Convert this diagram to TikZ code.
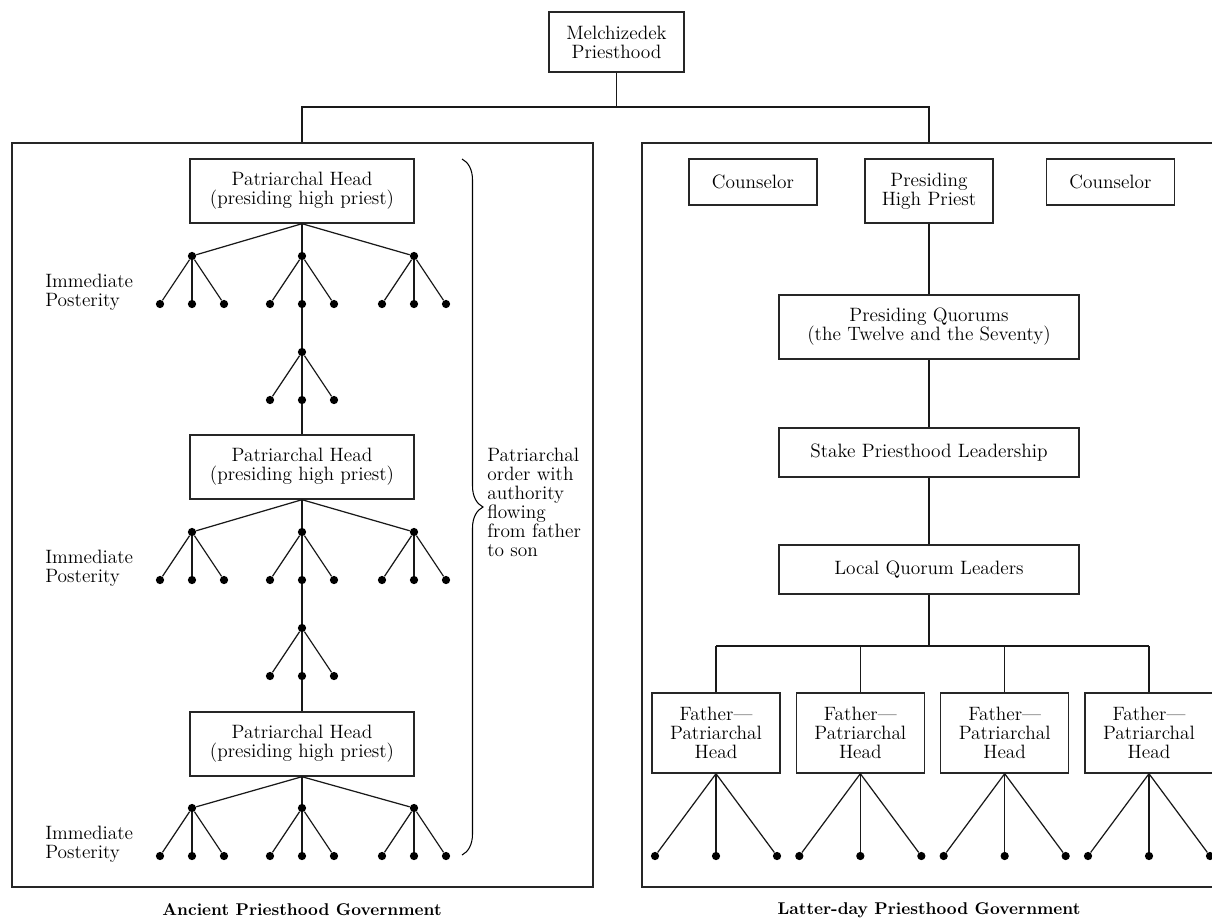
\documentclass[tikz,border=0pt]{standalone}
\usepackage{tikz}
\usetikzlibrary{positioning,decorations.pathreplacing}

\begin{document}
\begin{tikzpicture}[
  x=0.02cm, y=-0.02cm,
  every node/.style={font=\fontsize{11}{10.8}\selectfont},
  box/.style={draw=black!85, line width=0.8pt, inner sep=0pt, align=center, minimum width=2.56cm, minimum height=1.28cm},
  dot/.style={circle, fill=black, inner sep=0pt, minimum size=0.165cm},
  link/.style={draw=black!90, line width=0.7pt},
  frame/.style={draw=black!85, line width=1.1pt},
  note/.style={align=left, anchor=west, inner sep=0pt},
  govtitle/.style={font=\fontsize{9.7}{9.7}\selectfont\bfseries, inner sep=0pt}
]
\clip (0,0) rectangle (1212,917);
% Top
\node[box, minimum width=2.7cm, minimum height=1.2cm] (mel) at (616.5,42) {Melchizedek\\Priesthood};
\coordinate (bus) at (0,107);
\coordinate (ltop) at (302,143);
\coordinate (rtop) at (929,143);
\draw[link] (mel.south) -- (mel.south |- bus);
\draw[link] (ltop) -- (ltop |- bus) -- (rtop |- bus) -- (rtop);
% Frames
\draw[frame] (12,143) rectangle (593,887);
\draw[frame] (642,143) rectangle (1230,887);
% Ancient: patriarchal heads
\foreach \g/\y in {1/191,2/467,3/744}
  \node[box, minimum width=4.48cm] (ph\g) at (302,\y) {Patriarchal Head\\(presiding high priest)};
% Immediate posterity
\foreach \g/\y in {1/256,2/532,3/808} {
  \node[note] (ip\g) at (45,\y+36) {Immediate\\Posterity};
  \foreach \k/\x in {1/192,2/302,3/414} {
    \node[dot] (s\g\k) at (\x,\y) {};
    \draw[link] (ph\g.south) -- (s\g\k);
    \foreach \j in {1,2,3} {
      \node[dot] (s\g\k\j) at (\x+32*\j-64,\y+48) {};
      \draw[link] (s\g\k) -- (s\g\k\j);
    }
  }
}
% Sons in between
\foreach \m/\y in {1/352,2/628} {
  \node[dot] (m\m) at (302,\y) {};
  \draw[link] (s\m22) -- (m\m);
  \foreach \j in {1,2,3} {
    \node[dot] (m\m\j) at (302+32*\j-64,\y+48) {};
    \draw[link] (m\m) -- (m\m\j);
  }
}
\draw[link] (m12) -- (ph2);
\draw[link] (m22) -- (ph3);
% Brace
\coordinate (btop) at (462,159);
\coordinate (bbot) at (462,855);
\draw[line width=0.6pt, decorate, decoration={brace, amplitude=0.42cm}] (btop) -- (bbot);
\node[note] (order) at (487,502) {Patriarchal\\order with\\authority\\flowing\\from father\\to son};
% Latter-day
\node[box, minimum height=0.92cm] (cou1) at (753,182) {Counselor};
\node[box] (php) at (929,191) {Presiding\\High Priest};
\node[box, minimum height=0.92cm] (cou2) at (1110.5,182) {Counselor};
\node[box, minimum width=6cm] (pq) at (929,327) {Presiding Quorums\\(the Twelve and the Seventy)};
\node[box, minimum width=6cm, minimum height=0.98cm] (stake) at (929,452.5) {Stake Priesthood Leadership};
\node[box, minimum width=6cm, minimum height=0.98cm] (local) at (929,569.5) {Local Quorum Leaders};
\draw[link] (php) -- (pq);
\draw[link] (pq) -- (stake);
\draw[link] (stake) -- (local);
\coordinate (fbus) at (0,646);
\draw[link] (local.south) -- (local.south |- fbus);
\foreach \i in {0,...,3} {
  \node[box, minimum height=1.6cm] (fa\i) at (716+144.33*\i,733) {Father—\\Patriarchal\\Head};
  \draw[link] (fa\i.north) -- (fa\i.north |- fbus);
  \foreach \j in {1,2,3} {
    \node[dot] (fd\i\j) at (716+144.33*\i+61*\j-122,856) {};
    \draw[link] (fa\i.south) -- (fd\i\j);
  }
}
\draw[link] (fa0.north |- fbus) -- (fa3.north |- fbus);
% Captions
\node[govtitle] (capl) at (302,910) {Ancient Priesthood Government};
\node[govtitle] (capr) at (929,910) {Latter-day Priesthood Government};
\end{tikzpicture}
\end{document}
